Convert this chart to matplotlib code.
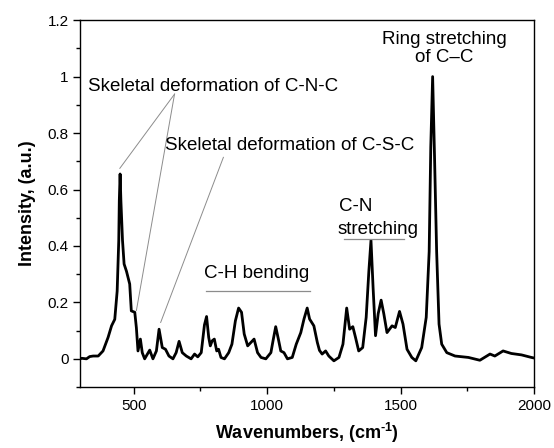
import matplotlib
matplotlib.use("Agg")
import matplotlib.pyplot as plt
from matplotlib.ticker import MultipleLocator

plt.rcParams['font.family'] = ['Liberation Sans', 'DejaVu Sans']
plt.rcParams['mathtext.fontset'] = 'custom'
plt.rcParams['mathtext.rm'] = 'Liberation Sans:bold'
plt.rcParams['mathtext.default'] = 'rm'

wavenumber = [300, 305, 323, 335, 348, 367, 385, 404, 417, 429, 438, 444, 446, 449, 452, 458,
              464, 473, 485, 491, 504, 510, 516, 525, 532, 541, 560, 572, 585, 595, 607, 619,
              632, 647, 659, 670, 682, 697, 715, 728, 740, 753, 765, 773, 781, 787, 794, 802,
              811, 818, 827, 840, 856, 868, 881, 893, 904, 914, 927, 939, 951, 964, 977, 995,
              1014, 1022, 1032, 1042, 1051, 1063, 1076, 1094, 1109, 1126, 1138, 1150, 1159,
              1175, 1188, 1196, 1206, 1219, 1231, 1250, 1269, 1284, 1298, 1309, 1321, 1331,
              1343, 1358, 1371, 1381, 1389, 1397, 1406, 1416, 1427, 1437, 1449, 1468, 1480,
              1496, 1509, 1524, 1542, 1557, 1579, 1596, 1607, 1613, 1620, 1627, 1635, 1644,
              1654, 1673, 1704, 1754, 1797, 1835, 1853, 1884, 1915, 1953, 1990, 2000]
intensity = [0.0, 0.002, 0.0, 0.008, 0.01, 0.01, 0.028, 0.076, 0.117, 0.14, 0.24, 0.42, 0.56, 0.655, 0.56, 0.42,
             0.336, 0.31, 0.265, 0.17, 0.165, 0.11, 0.028, 0.07, 0.022, 0.0, 0.031, 0.0, 0.028, 0.105, 0.04, 0.034,
             0.01, 0.0, 0.022, 0.062, 0.022, 0.01, 0.0, 0.017, 0.007, 0.022, 0.12, 0.15, 0.076, 0.046, 0.064, 0.07,
             0.028, 0.034, 0.005, 0.0, 0.022, 0.052, 0.135, 0.18, 0.165, 0.088, 0.046, 0.058, 0.07, 0.022, 0.005, 0.0,
             0.022, 0.064, 0.114, 0.07, 0.028, 0.022, 0.0, 0.005, 0.052, 0.093, 0.141, 0.18, 0.141,
             0.117, 0.058, 0.03, 0.017, 0.028, 0.01, -0.007, 0.005, 0.052, 0.18, 0.105, 0.114, 0.076,
             0.028, 0.04, 0.147, 0.31, 0.42, 0.25, 0.082, 0.16, 0.208, 0.16, 0.093, 0.117, 0.111,
             0.168, 0.123, 0.034, 0.005, -0.007, 0.04, 0.147, 0.38, 0.75, 1.0, 0.72, 0.38, 0.123,
             0.052, 0.022, 0.01, 0.005, -0.005, 0.017, 0.01, 0.028, 0.019, 0.014, 0.005, 0.003]

x_ticks = [500, 1000, 1500, 2000]
y_ticks = [0, 0.2, 0.4, 0.6, 0.8, 1.0, 1.2]
y_tick_labels = ['0', '0.2', '0.4', '0.6', '0.8', '1', '1.2']

fig = plt.figure(figsize=(5.54, 4.48), dpi=100)
ax = fig.add_axes([0.145, 0.136, 0.819, 0.819])

ax.plot(wavenumber, intensity, color='black', lw=2.0)

ax.set_xlim(300, 2000)
ax.set_ylim(-0.1, 1.2)
ax.set_xticks(x_ticks)
ax.set_yticks(y_ticks)
ax.set_yticklabels(y_tick_labels)
ax.xaxis.set_minor_locator(MultipleLocator(250))
ax.yaxis.set_minor_locator(MultipleLocator(0.1))
ax.tick_params(which='major', direction='out', length=5, width=1, labelsize=11, top=False, right=False)
ax.tick_params(which='minor', direction='out', length=2.7, width=1, top=False, right=False)
for s in ax.spines.values():
    s.set_linewidth(1.0)

ax.set_xlabel('Wavenumbers, (cm$^{\\text{-1}}$)', fontsize=13, fontweight='bold', labelpad=6)
ax.set_ylabel('Intensity, (a.u.)', fontsize=13, fontweight='bold', labelpad=8)

gray = '#8c8c8c'
fs = 13.5
ax.text(328, 0.966, 'Skeletal deformation of C-N-C', fontsize=fs, ha='left', va='center')
ax.text(619, 0.757, 'Skeletal deformation of C-S-C', fontsize=fs, ha='left', va='center')
ax.text(1665, 1.10, 'Ring stretching\nof C\u2013C', fontsize=fs, ha='center', va='center', linespacing=1.05)
ax.text(1268, 0.54, 'C-N', fontsize=fs, ha='left', va='center')
ax.text(1264, 0.458, 'stretching', fontsize=fs, ha='left', va='center')
ax.text(765, 0.302, 'C-H bending', fontsize=fs, ha='left', va='center')

ax.plot([653, 448], [0.938, 0.675], color=gray, lw=0.7)
ax.plot([653, 510], [0.938, 0.171], color=gray, lw=0.7)
ax.plot([836, 601], [0.714, 0.129], color=gray, lw=0.7)
ax.plot([769, 1160], [0.242, 0.242], color=gray, lw=0.9)
ax.plot([1287, 1511], [0.426, 0.426], color=gray, lw=0.9)

fig.savefig('out.png', dpi=100)
